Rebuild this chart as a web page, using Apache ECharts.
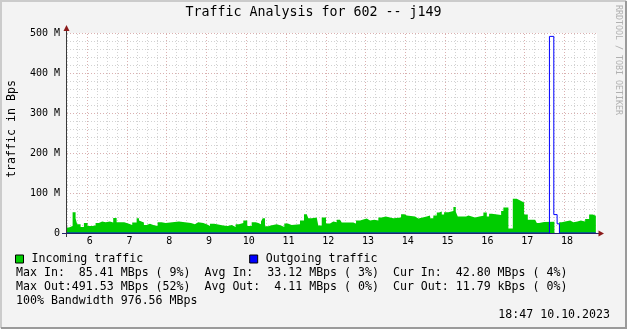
<!DOCTYPE html>
<html><head><meta charset="utf-8">
<script src="https://cdn.jsdelivr.net/npm/echarts@6/dist/echarts.min.js"></script>
<style>html,body{margin:0;padding:0;background:#f3f3f3}#c{width:627px;height:329px}</style>
</head><body><div id="c"></div>
<script>
const chartTitle = 'Traffic Analysis for 602 -- j149';
const yAxisTitle = 'traffic in Bps';
// time of each step start, in hours of the day
const inTimes = [
5.482,5.540,5.633,5.708,5.748,5.834,5.917,6.010,6.126,6.211,
6.294,6.377,6.463,6.571,6.654,6.740,6.931,7.049,7.132,7.243,
7.301,7.351,7.426,7.494,7.577,7.660,7.771,7.872,7.972,8.307,
8.609,8.709,8.792,8.918,9.004,9.087,9.195,9.421,9.532,9.633,
9.733,9.816,9.925,10.025,10.136,10.236,10.302,10.370,10.413,10.470,
10.553,10.614,10.765,10.873,10.956,11.042,11.142,11.351,11.452,11.519,
11.560,11.645,11.771,11.811,11.897,12.005,12.106,12.189,12.274,12.357,
12.400,12.692,12.760,12.860,13.029,13.112,13.220,13.321,13.406,13.507,
13.698,13.892,13.975,14.035,14.244,14.327,14.538,14.621,14.704,14.790,
14.848,14.916,14.974,15.082,15.208,15.268,15.318,15.527,15.585,15.753,
15.862,15.962,16.048,16.106,16.174,16.408,16.465,16.591,16.702,16.803,
16.886,16.986,17.079,17.263,17.306,17.363,17.406,17.489,17.748,17.867,
17.935,18.018,18.143,18.226,18.327,18.413,18.521,18.621,18.714,18.790];
// incoming traffic, MBps
const inValues = [
14,17.5,52,36,22,15,25,17.5,19,25,
29,27,29,26,37.5,27,23,20,26,37,
31,26,20,23,20,17.5,27,25,29,25,
22,27,25,22,17.5,23,19,17.5,20,15,
22,25,31,17.5,27,25,22,29,37,17,
18.5,22,19,15,24,20,22,31,47,43,
37,39,37,19,39,24,29,27,33,31,
26,23,31,36,31,33,31,39,41,37,
39,47,44,41,36,41,44,37,44,51,
54,46,52,55,65,53,41,44,39,41,
43,51,41,48,45,55,64,11,85.4,81,
76,46,33,31,25,22.5,27.5,28,0,27,
29,31,27,29,31,29,35,46,43,43];
// outgoing traffic, MBps
const outTimes = [5.482,17.623,17.733,17.816,17.874,18.790];
const outValues = [0,491.53,46,23,0,0];
const hourTicks = [6,7,8,9,10,11,12,13,14,15,16,17,18];
const legendNames = ['Incoming traffic','Outgoing traffic'];
const statLines = [
 'Max In:  85.41 MBps ( 9%)  Avg In:  33.12 MBps ( 3%)  Cur In:  42.80 MBps ( 4%)',
 'Max Out:491.53 MBps (52%)  Avg Out:  4.11 MBps ( 0%)  Cur Out: 11.79 kBps ( 0%)',
 '100% Bandwidth 976.56 MBps'];
const dateText = '18:47 10.10.2023';
const watermark = 'RRDTOOL / TOBI OETIKER';

const xMin = 5.492, xMax = 18.819;
const mono = "'DejaVu Sans Mono', monospace";
const majorCol = '#dab0b0', minorCol = '#d2d2d2';

const minorX = [];
for (let h = 5; h <= 18; h++) for (const q of [0.25, 0.5, 0.75]) { const v = h + q; if (v > xMin && v < xMax) minorX.push(v); }

const inData = inTimes.map((t, i) => [t, inValues[i]]);
const outData = outTimes.map((t, i) => [t, outValues[i]]);

const chart = echarts.init(document.getElementById('c'));
const option = {
  backgroundColor: '#f3f3f3',
  animation: false,
  title: { text: chartTitle, left: 'center', top: 6, padding: 0,
    textStyle: { fontFamily: mono, fontSize: 13.3, fontWeight: 'normal', color: '#000' } },
  grid: { left: 67, right: 30, top: 33, bottom: 96, show: true, backgroundColor: '#ffffff', borderWidth: 0 },
  legend: { data: legendNames, left: 15, top: 253, padding: 0, icon: 'rect', itemWidth: 8, itemHeight: 8,
    itemGap: 106, selectedMode: false,
    itemStyle: { borderColor: '#000', borderWidth: 1 },
    textStyle: { fontFamily: mono, fontSize: 11.6, color: '#000', padding: [0, 0, 0, 3] } },
  xAxis: { type: 'value', min: xMin, max: xMax,
    axisLine: { show: false }, axisTick: { show: false }, splitLine: { show: false },
    axisLabel: { customValues: hourTicks, formatter: v => String(Math.round(v)), fontFamily: mono, fontSize: 10,
      color: '#000', margin: 3, padding: [0, 0, 0, 5] } },
  yAxis: { type: 'value', min: 0, max: 500, interval: 100,
    axisLine: { show: false }, axisTick: { show: false },
    axisLabel: { formatter: v => v === 0 ? '0' : v + ' M', fontFamily: mono, fontSize: 10, color: '#000', margin: 7 },
    splitLine: { show: true, lineStyle: { color: majorCol, type: [1, 2], width: 1 } },
    minorTick: { show: false, splitNumber: 5 },
    minorSplitLine: { show: true, lineStyle: { color: minorCol, type: [1, 2], width: 1 } } },
  series: [
    { type: 'line', name: 'grid', data: [[xMin, 0]], symbol: 'none', lineStyle: { opacity: 0 }, z: 1, silent: true,
      markLine: { silent: true, z: 1, symbol: ['none', 'none'], label: { show: false }, animation: false,
        data: minorX.map(v => ({ xAxis: v, lineStyle: { color: minorCol, type: [1, 2], width: 1 } }))
          .concat(hourTicks.map(v => ({ xAxis: v, lineStyle: { color: majorCol, type: [1, 2], width: 1 } }))) } },
    { type: 'line', name: legendNames[0], data: inData, step: 'end', symbol: 'none', z: 3,
      color: '#00cc00', itemStyle: { color: '#00cc00' },
      lineStyle: { width: 0, color: '#00cc00' }, areaStyle: { color: '#00cc00', opacity: 1 } },
    { type: 'line', name: legendNames[1], data: outData, step: 'end', symbol: 'none', z: 4,
      color: '#0000ff', itemStyle: { color: '#0000ff' },
      lineStyle: { width: 1, color: '#0000ff' } }
  ],
  graphic: { elements: [
    // frame
    { type: 'polyline', z: 100, shape: { points: [[1, 328], [1, 1], [626, 1]] }, style: { stroke: '#cbcbcb', lineWidth: 2, fill: null } },
    { type: 'polyline', z: 100, shape: { points: [[1, 328], [626, 328], [626, 1]] }, style: { stroke: '#9a9a9a', lineWidth: 2, fill: null } },
    // axes
    { type: 'line', z: 100, shape: { x1: 66.5, y1: 237, x2: 66.5, y2: 30 }, style: { stroke: '#3a3a3a', lineWidth: 1 } },
    { type: 'line', z: 100, shape: { x1: 62, y1: 233.5, x2: 600, y2: 233.5 }, style: { stroke: '#24246a', lineWidth: 1 } },
    { type: 'polygon', z: 100, shape: { points: [[66.5, 25], [63.5, 31], [69.5, 31]] }, style: { fill: '#8b1a1a' } },
    { type: 'polygon', z: 100, shape: { points: [[604, 233.5], [598.5, 230.5], [598.5, 236.5]] }, style: { fill: '#8b1a1a' } },
    // texts
    { type: 'text', z: 100, x: 12, y: 129, rotation: Math.PI / 2,
      style: { text: yAxisTitle, font: "11.6px " + mono, fill: '#000', align: 'center', verticalAlign: 'middle' } },
    { type: 'text', z: 100, x: 618, y: 5, rotation: -Math.PI / 2,
      style: { text: watermark, font: "8.3px " + mono, fill: '#b0b0b0', align: 'left', verticalAlign: 'middle' } },
    { type: 'text', z: 100, x: 16, y: 273, style: { text: statLines[0], font: "11.6px " + mono, fill: '#000', align: 'left', verticalAlign: 'middle' } },
    { type: 'text', z: 100, x: 16, y: 287, style: { text: statLines[1], font: "11.6px " + mono, fill: '#000', align: 'left', verticalAlign: 'middle' } },
    { type: 'text', z: 100, x: 16, y: 301, style: { text: statLines[2], font: "11.6px " + mono, fill: '#000', align: 'left', verticalAlign: 'middle' } },
    { type: 'text', z: 100, x: 610, y: 315, style: { text: dateText, font: "11.6px " + mono, fill: '#000', align: 'right', verticalAlign: 'middle' } }
  ] }
};
chart.setOption(option);
</script></body></html>
